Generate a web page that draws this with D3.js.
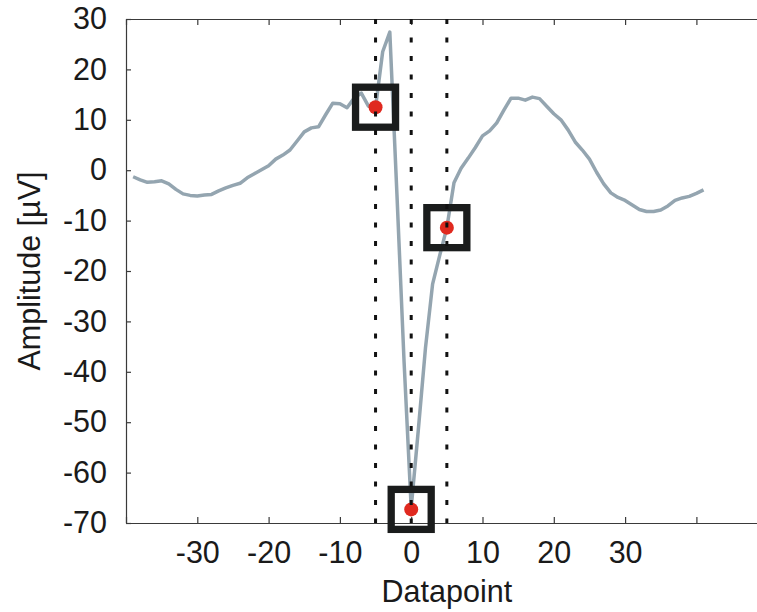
<!DOCTYPE html>
<html>
<head>
<meta charset="utf-8">
<script src="https://cdn.jsdelivr.net/npm/d3@7"></script>
<style>
  body { margin: 0; background: #fff; }
  svg { display: block; font-family: "Liberation Sans", Arial, Helvetica, sans-serif; }
</style>
</head>
<body>
<div id="chart"></div>
<script>
// data
const datapoints = d3.range(-39, 42);
const amplitude = [
  -1.3, -1.9, -2.4, -2.3, -2.1, -2.7, -3.8, -4.7, -5.0, -5.1,
  -4.9, -4.8, -4.1, -3.5, -3.0, -2.6, -1.5, -0.7, 0.1, 0.9,
  2.2, 3.0, 4.0, 5.8, 7.6, 8.4, 8.6, 11.0, 13.3, 13.2,
  12.4, 14.3, 15.3, 12.7, 12.5, 23.5, 27.4, -4.8, -38.0, -67.0,
  -51.5, -35.3, -22.6, -16.9, -11.4, -2.5, 0.4, 2.4, 4.5, 6.8,
  7.8, 9.4, 11.9, 14.3, 14.3, 13.9, 14.5, 14.2, 12.7, 11.2,
  10.0, 8.0, 5.6, 4.0, 2.2, -0.4, -2.7, -4.5, -5.4, -6.0,
  -6.9, -7.8, -8.2, -8.2, -7.9, -7.1, -6.0, -5.5, -5.2, -4.6,
  -3.9
];
const markerX = [-5, 5, 0];
const markerY = [12.5, -11.4, -67.3];
const vlineX = [-5, 0, 5];
const xTicks = [-40, -30, -20, -10, 0, 10, 20, 30, 40, 50];
const xTickLabels = ['', '-30', '-20', '-10', '0', '10', '20', '30', '', ''];
const yTicks = [-70, -60, -50, -40, -30, -20, -10, 0, 10, 20, 30];

const width = 757, height = 612;
const margin = { left: 126, top: 19 };
const plotW = 641.7, plotH = 504;

const svg = d3.select('#chart').append('svg')
  .attr('width', width).attr('height', height);

const x = d3.scaleLinear().domain([-40, 50]).range([margin.left, margin.left + plotW]);
const y = d3.scaleLinear().domain([-70, 30]).range([margin.top + plotH, margin.top]);

const axisColor = '#3a3a3a';
const fontSize = 30.5;

// axes (MATLAB style, inward ticks, box)
const styleAxis = g => {
  g.select('.domain').attr('stroke', axisColor).attr('stroke-width', 1.2);
  g.selectAll('.tick line').attr('stroke', axisColor).attr('stroke-width', 1.2);
  g.selectAll('.tick text').attr('fill', '#1a1a1a').attr('font-size', fontSize)
    .attr('font-family', '"Liberation Sans", Arial, sans-serif');
};

svg.append('g')
  .attr('transform', `translate(0,${margin.top + plotH})`)
  .call(d3.axisBottom(x).tickValues(xTicks).tickSizeInner(-6).tickSizeOuter(0)
    .tickPadding(18).tickFormat((d, i) => xTickLabels[i]))
  .call(styleAxis);

svg.append('g')
  .attr('transform', `translate(0,${margin.top})`)
  .call(d3.axisTop(x).tickValues(xTicks).tickSizeInner(-6).tickSizeOuter(0).tickFormat(''))
  .call(styleAxis);

svg.append('g')
  .attr('transform', `translate(${margin.left},0)`)
  .call(d3.axisLeft(y).tickValues(yTicks).tickSizeInner(-5).tickSizeOuter(0).tickPadding(19)
    .tickFormat(d => String(d)))
  .call(styleAxis);

// axis labels
svg.append('text')
  .attr('x', (x.range()[0] + x.range()[1]) / 2)
  .attr('y', 602)
  .attr('text-anchor', 'middle')
  .attr('font-size', fontSize)
  .attr('fill', '#1a1a1a')
  .text('Datapoint');

svg.append('text')
  .attr('transform', `translate(40,${margin.top + plotH / 2}) rotate(-90)`)
  .attr('text-anchor', 'middle')
  .attr('font-size', fontSize)
  .attr('fill', '#1a1a1a')
  .text('Amplitude [µV]');

// signal
const line = d3.line()
  .x((d, i) => x(datapoints[i]))
  .y(d => y(d));

svg.append('path')
  .datum(amplitude)
  .attr('fill', 'none')
  .attr('stroke', '#94a5b0')
  .attr('stroke-width', 3.5)
  .attr('stroke-linejoin', 'round')
  .attr('d', line);

// red dots
svg.append('g').selectAll('circle').data(markerX)
  .join('circle')
  .attr('cx', d => x(d))
  .attr('cy', (d, i) => y(markerY[i]))
  .attr('r', 7)
  .attr('fill', '#e0291f');

// square markers
const boxSize = 40;
svg.append('g').selectAll('rect').data(markerX)
  .join('rect')
  .attr('x', d => x(d) - boxSize / 2)
  .attr('y', (d, i) => y(markerY[i]) - boxSize / 2)
  .attr('width', boxSize)
  .attr('height', boxSize)
  .attr('fill', 'none')
  .attr('stroke', '#1a1c1c')
  .attr('stroke-width', 7.3);

// dotted vertical lines
svg.append('g').selectAll('line').data(vlineX)
  .join('line')
  .attr('x1', d => x(d)).attr('x2', d => x(d))
  .attr('y1', margin.top).attr('y2', margin.top + plotH)
  .attr('stroke', '#111')
  .attr('stroke-width', 3)
  .attr('stroke-dasharray', '5,13.5');
</script>
</body>
</html>
